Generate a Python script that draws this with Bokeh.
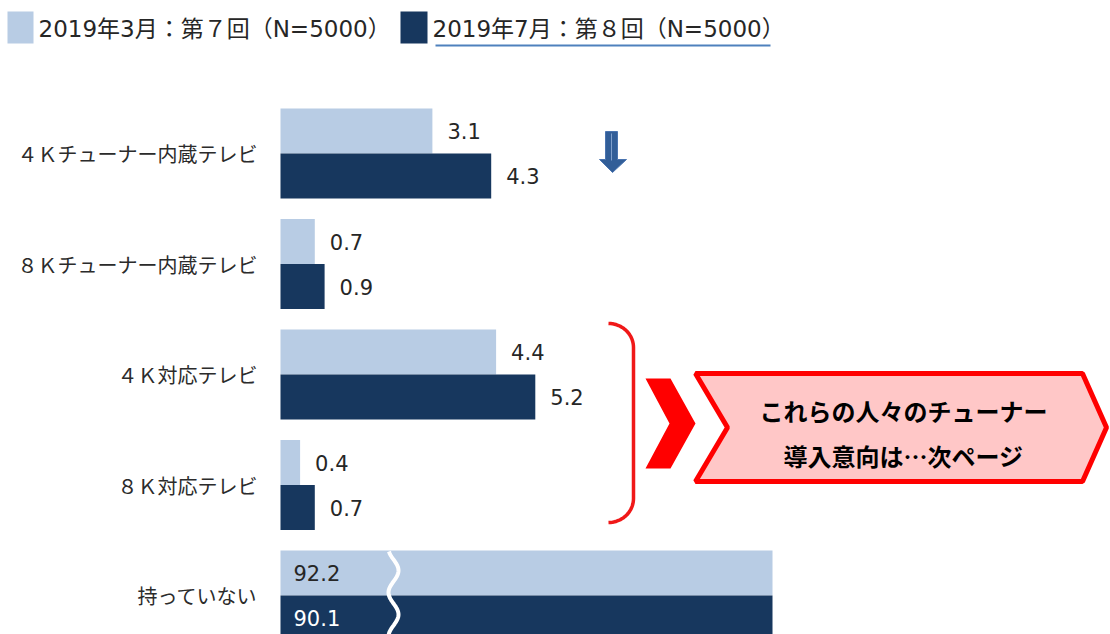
import numpy as np
from bokeh.plotting import figure
from bokeh.models import Range1d
from bokeh.core.properties import value
from bokeh.embed import file_html
from bokeh.resources import INLINE

# ---------------- data ----------------
categories = ["４Ｋチューナー内蔵テレビ", "８Ｋチューナー内蔵テレビ", "４Ｋ対応テレビ", "８Ｋ対応テレビ", "持っていない"]
series_names = ["2019年3月：第７回（N=5000）", "2019年7月：第８回（N=5000）"]
values_mar = [3.1, 0.7, 4.4, 0.4, 92.2]
values_jul = [4.3, 0.9, 5.2, 0.7, 90.1]
callout_lines = ["これらの人々のチューナー", "導入意向は…次ページ"]

# ---------------- styles / layout ----------------
colors = ["#B8CCE4", "#17375E"]
W, H = 1110, 634
PX = 49.0          # pixels per percentage point
ROW = 110.5        # pixels per category row
XP0, YP0 = 280, 153  # picture position of x=0 and first category centre


def fx(px):
    return (px - XP0) / PX


def fy(py):
    return (py - YP0) / ROW


AXIS_CAP = fx(772)  # broken-axis end for very long bars

p = figure(width=W, height=H, output_backend="svg", toolbar_location=None,
           x_range=Range1d(fx(0), fx(W)), y_range=Range1d(fy(H), fy(0)),
           x_axis_location=None, y_axis_location=None, min_border=0)
p.grid.visible = False
p.outline_line_color = None
p.background_fill_color = "white"

n = len(categories)
idx = np.arange(n)
off = 22.5 / ROW
bh = 45 / ROW

for k, (vals, col) in enumerate([(values_mar, colors[0]), (values_jul, colors[1])]):
    ys = idx + (-off if k == 0 else off)
    rights = [min(v, AXIS_CAP) for v in vals]
    p.hbar(y=ys, left=0, right=rights, height=bh, fill_color=col, line_color=None)
    for y, v in zip(ys, vals):
        if v <= AXIS_CAP:
            p.text(x=[v + 15 / PX], y=[y], text=[f"{v:.1f}"], text_font=value("DejaVu Sans"),
                   text_font_size="21px", text_color="#262626", text_baseline="middle", text_align="left")
        else:
            p.text(x=[fx(293)], y=[y], text=[f"{v:.1f}"], text_font=value("DejaVu Sans"),
                   text_font_size="21px", text_color="#262626" if k == 0 else "white",
                   text_baseline="middle", text_align="left")

# broken-axis wave on the long bars
wy = np.linspace(551, H, 80)
wx = 393 + 5 * np.sin(2 * np.pi * (wy - 559) / 44)
p.line(x=fx(wx), y=fy(wy), line_color="white", line_width=4)

# category labels
p.text(x=[fx(257)] * n, y=list(idx), text=categories, text_font=value("Noto Sans CJK JP"),
       text_font_size="20px", text_color="#2B2B2B", text_baseline="middle", text_align="right")

# legend
leg = [(7, 33, 38), (400, 427, 432)]
for (l, r, tx), col, name in zip(leg, colors, series_names):
    p.quad(left=fx(l), right=fx(r), top=fy(11), bottom=fy(43), fill_color=col, line_color=None)
    p.text(x=[fx(tx)], y=[fy(28)], text=[name], text_font=value("DejaVu Sans, Noto Sans CJK JP"),
           text_font_size="23px", text_color="#262626", text_baseline="middle", text_align="left")
p.line(x=[fx(435), fx(770)], y=[fy(45), fy(45)], line_color="#4F81BD", line_width=2)

# down arrow
ax = np.array([605, 617, 617, 626, 612, 599, 605])
ay = np.array([131, 131, 159, 159, 172, 159, 159])
p.patch(x=fx(ax), y=fy(ay), fill_color="#325E98", line_color="#4A74B0", line_width=1)
p.line(x=[fx(611), fx(611)], y=[fy(133), fy(160)], line_color="#7F9FCC", line_width=1)

# red bracket
t = np.linspace(0, np.pi / 2, 20)
top_x = 608 + 25 * np.sin(t)
top_y = 347 - 24 * np.cos(t)
bot_x = 608 + 25 * np.cos(t)
bot_y = 498 + 24 * np.sin(t)
bx = np.concatenate([top_x, bot_x])
by = np.concatenate([top_y, bot_y])
p.line(x=fx(bx), y=fy(by), line_color="#F01818", line_width=3.5)

# red chevron
cx = np.array([645, 670, 695, 670, 645, 669])
cy = np.array([378, 378, 423, 468, 468, 423])
p.patch(x=fx(cx), y=fy(cy), fill_color="#FF0000", line_color=None)

# callout box
px_ = np.array([695, 1082, 1106, 1082, 695, 727])
py_ = np.array([373, 373, 427, 481, 481, 427])
p.patch(x=fx(px_), y=fy(py_), fill_color="#FFC7C7", line_color="#FF0000", line_width=5)
p.text(x=[fx(903), fx(903)], y=[fy(410), fy(455)], text=callout_lines,
       text_font=value("Noto Sans CJK JP"), text_font_style="bold", text_font_size="24px",
       text_color="black", text_baseline="middle", text_align="center")

open("out.html", "w").write(file_html(p, INLINE))
